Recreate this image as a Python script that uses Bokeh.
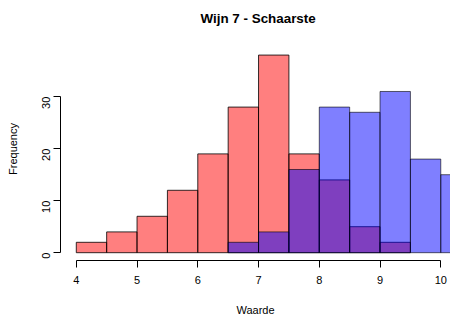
import math
from bokeh.plotting import figure
from bokeh.models import FixedTicker
from bokeh.embed import file_html
from bokeh.resources import INLINE

# Data (histogram bins of width 0.5)
bin_edges = [4.0, 4.5, 5.0, 5.5, 6.0, 6.5, 7.0, 7.5, 8.0, 8.5, 9.0, 9.5, 10.0, 10.5]
red_counts = [2, 4, 7, 12, 19, 28, 38, 19, 14, 5, 2, 0, 0]
blue_counts = [0, 0, 0, 0, 0, 2, 4, 16, 28, 27, 31, 18, 15]
x_ticks = [4, 5, 6, 7, 8, 9, 10]
y_ticks = [0, 10, 20, 30]

FONT = "Liberation Sans"

p = figure(width=450, height=318, x_range=(3.74, 10.16), y_range=(-1.5, 41.38),
           output_backend="svg", toolbar_location=None,
           min_border_left=60, min_border_right=0, min_border_top=37, min_border_bottom=58,
           title="Wijn 7 - Schaarste")

xax = p.below[0]
yax = p.left[0]

p.title.align = "left"
p.title.vertical_align = "top"
p.title.offset = 140
p.title.standoff = 20
p.title.text_font = FONT
p.title.text_font_size = "13.4px"
p.title.text_font_style = "bold"
p.title.text_color = "black"

p.outline_line_color = None
p.xgrid.visible = False
p.ygrid.visible = False
p.background_fill_color = "white"
p.border_fill_color = "white"

left = bin_edges[:-1]
right = bin_edges[1:]

r_l = [l for l, c in zip(left, red_counts) if c > 0]
r_r = [r for r, c in zip(right, red_counts) if c > 0]
r_c = [c for c in red_counts if c > 0]
b_l = [l for l, c in zip(left, blue_counts) if c > 0]
b_r = [r for r, c in zip(right, blue_counts) if c > 0]
b_c = [c for c in blue_counts if c > 0]

p.quad(left=r_l, right=r_r, bottom=0, top=r_c, fill_color="#ff0000", fill_alpha=0.5,
       line_color="#000000", line_alpha=0.8, line_width=1)
p.quad(left=b_l, right=b_r, bottom=0, top=b_c, fill_color="#0000ff", fill_alpha=0.5,
       line_color="#000000", line_alpha=0.6, line_width=1)

for ax in (xax, yax):
    ax.major_tick_in = 0
    ax.major_tick_out = 7
    ax.minor_tick_line_color = None
    ax.axis_line_color = "black"
    ax.major_tick_line_color = "black"
    ax.major_label_text_font = FONT
    ax.major_label_text_font_size = "11px"
    ax.major_label_text_color = "black"
    ax.axis_label_text_font = FONT
    ax.axis_label_text_font_size = "11px"
    ax.axis_label_text_font_style = "normal"
    ax.axis_label_text_color = "black"

xax.ticker = FixedTicker(ticks=x_ticks)
xax.bounds = (4, 10)
xax.axis_label = "Waarde"
xax.major_label_standoff = 8
xax.axis_label_standoff = 17

yax.ticker = FixedTicker(ticks=y_ticks)
yax.bounds = (0, 30)
yax.axis_label = "Frequency"
yax.major_label_orientation = math.pi / 2
yax.major_label_standoff = 7
yax.axis_label_standoff = 17

open("out.html", "w").write(file_html(p, INLINE))
